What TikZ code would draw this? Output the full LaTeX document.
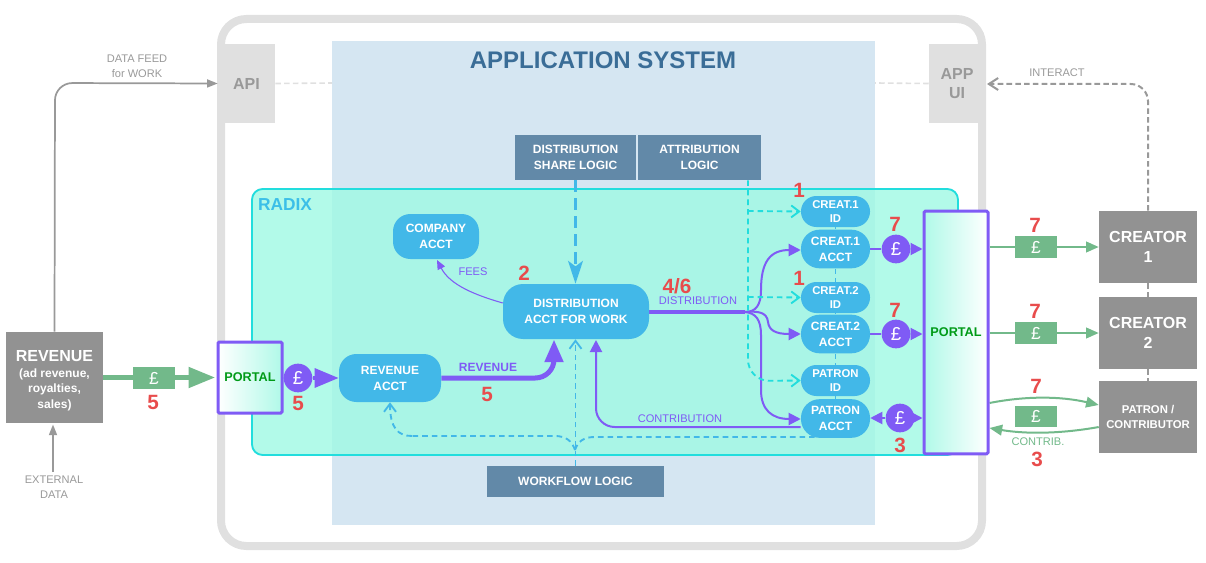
\documentclass[tikz,border=0pt]{standalone}
\usepackage{fontspec}
\setmainfont{Liberation Sans}
\usetikzlibrary{arrows.meta}
\definecolor{framegrey}{HTML}{E0E0E0}
\definecolor{appblue}{HTML}{D5E6F2}
\definecolor{radixfill}{HTML}{9FF9E3}
\definecolor{radixline}{HTML}{22DDDD}
\definecolor{radixtext}{HTML}{3CBFE8}
\definecolor{titleblue}{HTML}{3A6D97}
\definecolor{logicblue}{HTML}{6289A8}
\definecolor{bubble}{HTML}{42B8E8}
\definecolor{purpleflow}{HTML}{7F5BF5}
\definecolor{greenflow}{HTML}{72B98A}
\definecolor{greybox}{HTML}{929292}
\definecolor{greyline}{HTML}{999999}
\definecolor{rednum}{HTML}{E84C4C}
\definecolor{portalgreen}{HTML}{009A17}
\definecolor{portalfill}{HTML}{B0F9E8}
\pgfdeclarelayer{backdrop}
\pgfdeclarelayer{back}
\pgfsetlayers{backdrop, back, main}
\newcommand{\fnt}[2]{\fontsize{#1}{#2}\selectfont}
\tikzset{
  every node/.style={inner sep=0pt, align=center},
  logicbox/.style={fill=logicblue, text=white, font=\fnt{9}{11.5}\bfseries},
  acct/.style={fill=bubble, text=white, rounded corners=13pt, font=\fnt{9}{12}\bfseries},
  acctsmall/.style={acct, minimum width=51.75pt, minimum height=29pt, rounded corners=14pt},
  idbox/.style={acct, minimum width=51.75pt, minimum height=23.25pt, rounded corners=11.5pt, font=\fnt{8.5}{11}\bfseries},
  actor/.style={fill=greybox, text=white, minimum width=73.5pt, minimum height=54pt, font=\fnt{12}{15}\bfseries},
  apibox/.style={fill=framegrey, text=greyline, font=\fnt{12}{14}\bfseries},
  portal/.style={draw=purpleflow, line width=2.25pt, rounded corners=1pt, text=portalgreen, font=\fnt{9.5}{12}\bfseries},
  poundcirc/.style={circle, fill=purpleflow, text=white, minimum size=21.5pt, font=\fnt{14}{14}},
  poundbox/.style={fill=greenflow, text=white, minimum width=31.5pt, minimum height=16pt, font=\fnt{13}{13}},
  num/.style={text=rednum, font=\fnt{15.5}{15.5}\bfseries},
  lbl/.style={font=\fnt{8.3}{11}},
  purpleline/.style={draw=purpleflow, line width=1.5pt, -{Triangle[length=9pt,width=9pt]}},
  purplethick/.style={draw=purpleflow, line width=3.75pt, -{Triangle[length=17pt,width=13.5pt]}},
  greenline/.style={draw=greenflow, line width=1.5pt, -{Triangle[length=9.5pt,width=8pt]}},
  tealdash/.style={draw=radixline, line width=1.4pt, dash pattern=on 4.2pt off 3pt, -{Straight Barb[length=6pt,width=9pt]}},
  bluedash/.style={draw=bubble, line width=1.4pt, dash pattern=on 4.2pt off 3pt, -{Straight Barb[length=6pt,width=9pt]}},
  linkdash/.style={draw=bubble, line width=1.4pt, dash pattern=on 4.2pt off 3pt},
  greydash/.style={draw=greyline, line width=1.5pt, dash pattern=on 4.2pt off 2.4pt},
}
\begin{document}
\begin{tikzpicture}[x=0.75pt, y=-0.75pt]
\useasboundingbox (0,0) rectangle (1206,563);

% system frame and areas
\begin{pgfonlayer}{backdrop}
\draw[framegrey, line width=6pt, rounded corners=19pt] (221,19) rectangle (982,546);
\fill[appblue] (332,41) rectangle (875,525);
\fill[radixfill, opacity=0.8] (252,189) [rounded corners=8pt] rectangle (958,455);
\draw[radixline, line width=1.4pt, rounded corners=8pt] (252,189) rectangle (958,455);
\end{pgfonlayer}
\node[text=titleblue, font=\fnt{18}{18}\bfseries] (title) at (603,60) {APPLICATION SYSTEM};
\node[text=radixtext, font=\fnt{13}{13}\bfseries] (radix) at (285,205) {RADIX};

% interfaces
\node[apibox, minimum width=42.75pt, minimum height=59.25pt] (api) at (246.5,83.5) {API};
\node[apibox, minimum width=42pt, minimum height=59.25pt] (appui) at (957,83.5) {APP\\UI};

% logic
\node[logicbox, minimum width=90.75pt, minimum height=33.75pt] (sharelogic) at (575.5,157.5) {DISTRIBUTION\\SHARE LOGIC};
\node[logicbox, minimum width=92.25pt, minimum height=33.75pt] (attrlogic) at (699.5,157.5) {ATTRIBUTION\\LOGIC};
\node[logicbox, minimum width=132.75pt, minimum height=23.25pt] (worklogic) at (575.5,481.5) {WORKFLOW LOGIC};

% accounts
\node[acct, minimum width=64.5pt, minimum height=33.75pt] (companyacct) at (436,236.5) {COMPANY\\ACCT};
\node[acct, minimum width=109.5pt, minimum height=41.25pt, rounded corners=15pt] (distacct) at (576,311.5) {DISTRIBUTION\\ACCT FOR WORK};
\node[acct, minimum width=76.5pt, minimum height=36pt] (revacct) at (390,378) {REVENUE\\ACCT};
\node[idbox] (creat1id) at (835.5,211.5) {CREAT.1\\ID};
\node[acctsmall] (creat1acct) at (835.5,249) {CREAT.1\\ACCT};
\node[idbox] (creat2id) at (835.5,297.5) {CREAT.2\\ID};
\node[acctsmall] (creat2acct) at (835.5,334) {CREAT.2\\ACCT};
\node[idbox] (patronid) at (835.5,380.5) {PATRON\\ID};
\node[acctsmall] (patronacct) at (835.5,418.5) {PATRON\\ACCT};

% portals
\node[portal, left color=white, right color=portalfill, minimum width=48pt, minimum height=53.25pt] (portalin) at (250,377.5) {PORTAL};
\node[portal, left color=portalfill, right color=white, minimum width=48pt, minimum height=182pt] (portalout) at (956,332.5) {PORTAL};

% pound signs
\node[poundcirc] (pin) at (298,378) {£};
\node[poundcirc] (p1) at (896,249) {£};
\node[poundcirc] (p2) at (896,334) {£};
\node[poundcirc] (p3) at (900,418) {£};

% outside
\node[fill=greybox, text=white, minimum width=72.75pt, minimum height=68.25pt, font=\fnt{9}{11.6}\bfseries] (revenue) at (54.5,377.5) {\rule{0pt}{13pt}{\fnt{12}{14}REVENUE}\\(ad revenue,\\royalties,\\sales)};
\node[actor] (creator1) at (1148,247) {CREATOR\\1};
\node[actor] (creator2) at (1148,333) {CREATOR\\2};
\node[actor, font=\fnt{8.5}{11}\bfseries] (patron) at (1148,417) {PATRON /\\CONTRIBUTOR};
\coordinate (extern) at (53,472);

% money flows
\begin{pgfonlayer}{back}
\draw[greyline, line width=1.3pt, rounded corners=13pt, -{Triangle[length=8pt,width=6pt]}] (revenue.north) -- (55,83) -- (api.west);
\draw[greyline, line width=1.3pt, -{Triangle[length=8pt,width=6pt]}] (extern) -- (53,424.5);
\draw[greenflow, line width=3.75pt, line cap=round, -{Triangle[length=20pt,width=15pt]}] (revenue.east |- portalin) -- ([xshift=-1pt]portalin.west);
\draw[framegrey, line width=1.2pt, dash pattern=on 4.2pt off 2.4pt] (api.east) -- (332,83);
\draw[framegrey, line width=1.2pt, dash pattern=on 4.2pt off 2.4pt] (appui.west) -- (875,83);

\draw[purpleflow, line width=3pt, -{Triangle[length=18pt,width=14pt]}] (pin.east) -- (revacct.west);
\draw[purplethick, rounded corners=14pt] (revacct.east) -- (554,378) -- (554,339.5);
\draw[purpleflow, line width=0.8pt, -{Triangle[length=7pt,width=6pt]}] (distacct.west |- 0,303) .. controls (475,295) and (450,285) .. (437,260);
\draw[purpleflow, line width=2.6pt] (distacct.east |- 0,312) -- (745,312);
\draw[purpleline] (745,312) .. controls (756,312) and (761,305) .. (761,290) .. controls (761,262) and (770,250) .. (creat1acct.west |- 0,250);
\draw[purpleline] (745,312) .. controls (758,311) and (767,312) .. (768,322) .. controls (769,330) and (775,334) .. (creat2acct.west);
\draw[purpleline] (745,312) .. controls (756,313) and (761,320) .. (761,335) -- (761,390) .. controls (761,410) and (772,419) .. (patronacct.west |- 0,419);
\draw[purpleline, rounded corners=14pt] (patronacct.west |- 0,427) -- (596,427) -- (596,340);
\draw[purpleflow, line width=1.5pt] (creat1acct.east) -- (p1.west);
\draw[purpleline] (p1.east) -- (portalout.west |- p1);
\draw[purpleflow, line width=1.5pt] (creat2acct.east) -- (p2.west);
\draw[purpleline] (p2.east) -- (portalout.west |- p2);
\draw[purpleline] (p3.west) -- (patronacct.east |- p3);
\draw[purpleline] (p3.east) -- (portalout.west |- p3);

\draw[greenline] (portalout.east |- creator1) -- (creator1.west);
\draw[greenline] (portalout.east |- creator2) -- (creator2.west);
\draw[greenline] (portalout.east |- 0,403) .. controls (1025,396) and (1060,396) .. (patron.west |- 0,405);
\draw[greenline] (patron.west |- 0,427) .. controls (1060,434) and (1025,434) .. (portalout.east |- 0,428);

% logic links
\draw[draw=bubble, line width=2.6pt, dash pattern=on 9pt off 4.5pt, -{Stealth[length=17pt,width=11pt,inset=4pt]}] (sharelogic.south) -- (distacct.north -| sharelogic);
\draw[bluedash] (worklogic.north) -- (distacct.south -| worklogic);
\draw[linkdash] (575,450) .. controls (572,441) and (566,436) .. (555,436) -- (412,436);
\draw[bluedash] (412,436) .. controls (398,436) and (390,428) .. (revacct.south);
\draw[linkdash] (575,450) .. controls (578,441) and (584,437) .. (595,437) -- (820,437);
\draw[tealdash, rounded corners=16pt] (attrlogic.south -| 748,0) -- (748,381) -- (patronid.west);
\draw[tealdash] (748,211) -- (creat1id.west);
\draw[tealdash] (748,297) -- (creat2id.west);
\draw[linkdash] (creat1id.south) -- (creat1acct.north);
\draw[linkdash] (creat1acct.south) -- (creat2id.north);
\draw[linkdash] (creat2id.south) -- (creat2acct.north);
\draw[linkdash] (creat2acct.south) -- (patronid.north);
\draw[linkdash] (patronid.south) -- (patronacct.north);
\draw[greydash] (creator1.south) -- (creator2.north);
\draw[greydash] (creator2.south) -- (patron.north);
\end{pgfonlayer}
\coordinate (uiedge) at (987,84);
\draw[greydash, rounded corners=13pt, -{Straight Barb[length=7pt,width=9pt]}] (creator1.north) -- (1148,84) -- (uiedge);

% pound boxes
\node[poundbox] (box0) at (154,378) {£};
\node[poundbox] (box1) at (1036,247) {£};
\node[poundbox] (box2) at (1036,333) {£};
\node[poundbox] (box3) at (1036,416.5) {£};

% labels
\node[lbl, text=greyline] (feedlbl) at (137,66) {DATA FEED\\for WORK};
\node[lbl, text=greyline] (extlbl) at (54,487.5) {EXTERNAL\\DATA};
\node[lbl, text=greyline] (intlbl) at (1057,73) {INTERACT};
\node[lbl, text=purpleflow] (feeslbl) at (473,272) {FEES};
\node[lbl, text=purpleflow, font=\fnt{9}{11}\bfseries] (revlbl) at (488,367) {REVENUE};
\node[lbl, text=purpleflow] (distlbl) at (698,301) {DISTRIBUTION};
\node[lbl, text=purpleflow] (contlbl) at (680,419) {CONTRIBUTION};
\node[lbl, text=greenflow] (contriblbl) at (1038,442) {CONTRIB.};

% step numbers
\node[num] (n1) at (153,402) {5};
\node[num] (n2) at (298,403) {5};
\node[num] (n3) at (487,394) {5};
\node[num] (n4) at (524,273) {2};
\node[num] (n5) at (677,286) {4/6};
\node[num] (n6) at (799,190) {1};
\node[num] (n7) at (799,278) {1};
\node[num] (n8) at (895,224) {7};
\node[num] (n9) at (895,310) {7};
\node[num] (n10) at (900,445) {3};
\node[num] (n11) at (1035,225) {7};
\node[num] (n12) at (1035,311) {7};
\node[num] (n13) at (1036,386) {7};
\node[num] (n14) at (1037,459) {3};
\end{tikzpicture}
\end{document}
